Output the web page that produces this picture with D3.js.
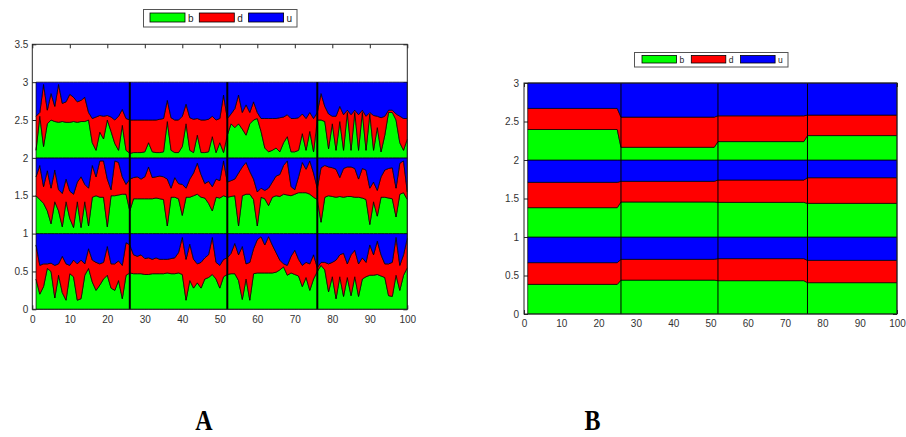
<!DOCTYPE html>
<html>
<head>
<meta charset="utf-8">
<script src="https://cdn.jsdelivr.net/npm/d3@7"></script>
<style>
  body { margin: 0; background: #fff; }
  svg { display: block; font-family: "Liberation Sans", Arial, sans-serif; }
</style>
</head>
<body>
<svg id="fig" width="906" height="437"></svg>
<script>
// ---- data ----
const keys = ['b', 'd', 'u'];
const colors = ['#00ff00', '#ff0000', '#0000ff'];
const breaks = [26, 52, 76];
const xTicks = [0, 10, 20, 30, 40, 50, 60, 70, 80, 90, 100];
const yTicksA = [0, 0.5, 1, 1.5, 2, 2.5, 3, 3.5];
const yTicksB = [0, 0.5, 1, 1.5, 2, 2.5, 3];

// panel A: samples x = 1..100, b = green share, bd = b + d (top of red), per band
const aX = d3.range(1, 101);
const aB0 = [0.4,0.2,0.3,0.54,0.5,0.15,0.45,0.22,0.12,0.47,0.43,0.12,0.14,0.45,0.54,0.36,0.25,0.32,0.4,0.45,0.28,0.25,0.38,0.14,0.45,
  0.48,0.47,0.47,0.47,0.46,0.46,0.47,0.47,0.47,0.47,0.48,0.47,0.47,0.48,0.46,0.12,0.38,0.28,0.35,0.28,0.4,0.42,0.46,0.4,0.28,0.43,
  0.46,0.47,0.47,0.38,0.13,0.4,0.12,0.47,0.48,0.48,0.48,0.48,0.48,0.49,0.52,0.56,0.45,0.48,0.46,0.44,0.3,0.42,0.25,0.4,
  0.5,0.58,0.52,0.23,0.43,0.14,0.43,0.17,0.42,0.18,0.43,0.17,0.4,0.43,0.45,0.45,0.46,0.44,0.42,0.18,0.17,0.45,0.25,0.45,0.55];
const aBD0 = [0.85,0.58,0.6,0.6,0.61,0.58,0.6,0.7,0.6,0.58,0.65,0.6,0.65,0.6,0.8,0.65,0.62,0.6,0.62,0.83,0.6,0.6,0.64,0.58,0.88,
  0.85,0.72,0.7,0.72,0.67,0.68,0.66,0.68,0.66,0.66,0.66,0.67,0.68,0.75,0.95,0.66,0.86,0.66,0.6,0.62,0.68,0.72,0.95,0.62,0.58,0.66,
  0.68,0.74,0.87,0.72,0.83,0.6,0.62,0.8,0.92,0.96,0.85,0.96,0.85,0.75,0.65,0.6,0.58,0.7,0.78,0.66,0.58,0.62,0.6,0.72,
  0.55,0.62,0.62,0.6,0.62,0.65,0.72,0.74,0.6,0.72,0.78,0.6,0.68,0.62,0.85,0.72,0.9,0.72,0.6,0.6,0.62,0.95,0.58,0.72,0.94];
const aB1 = [0.5,0.45,0.4,0.3,0.13,0.42,0.3,0.09,0.42,0.2,0.08,0.42,0.08,0.42,0.1,0.48,0.5,0.48,0.48,0.09,0.5,0.5,0.51,0.52,0.52,
  0.3,0.46,0.46,0.46,0.46,0.46,0.46,0.47,0.46,0.45,0.1,0.48,0.48,0.46,0.24,0.48,0.48,0.5,0.52,0.48,0.47,0.4,0.3,0.48,0.47,0.5,
  0.48,0.49,0.5,0.1,0.5,0.52,0.52,0.45,0.1,0.48,0.46,0.37,0.48,0.5,0.49,0.52,0.51,0.5,0.52,0.54,0.54,0.54,0.52,0.48,
  0.45,0.15,0.48,0.5,0.49,0.48,0.49,0.48,0.49,0.49,0.48,0.48,0.47,0.45,0.12,0.42,0.23,0.48,0.48,0.47,0.46,0.22,0.52,0.54,0.45];
const aBD1 = [0.75,0.9,0.62,0.83,0.6,0.84,0.58,0.53,0.72,0.56,0.52,0.68,0.75,0.65,0.6,0.9,0.75,0.96,0.96,0.72,0.58,0.96,0.94,0.75,0.65,
  0.72,0.74,0.75,0.72,0.75,0.88,0.74,0.75,0.76,0.75,0.72,0.6,0.74,0.66,0.65,0.6,0.72,0.8,0.93,0.78,0.66,0.69,0.62,0.72,0.7,0.96,
  0.68,0.7,0.72,0.8,0.88,0.94,0.82,0.72,0.55,0.6,0.57,0.6,0.68,0.76,0.78,0.9,0.96,0.62,0.58,0.75,0.94,0.85,0.96,0.8,
  0.6,0.87,0.9,0.88,0.87,0.85,0.74,0.86,0.88,0.88,0.86,0.72,0.86,0.84,0.6,0.68,0.57,0.75,0.84,0.86,0.87,0.6,0.93,0.96,0.55];
const aB2 = [0.1,0.55,0.15,0.45,0.5,0.48,0.47,0.48,0.47,0.47,0.48,0.47,0.48,0.48,0.5,0.2,0.1,0.34,0.25,0.5,0.35,0.19,0.1,0.43,0.1,
  0.06,0.07,0.07,0.07,0.08,0.2,0.08,0.07,0.07,0.08,0.48,0.1,0.07,0.07,0.15,0.45,0.1,0.07,0.3,0.07,0.07,0.08,0.28,0.07,0.2,0.07,
  0.3,0.45,0.4,0.45,0.38,0.3,0.45,0.5,0.52,0.35,0.13,0.08,0.1,0.13,0.08,0.2,0.28,0.08,0.08,0.1,0.32,0.1,0.35,0.08,
  0.5,0.5,0.48,0.12,0.45,0.1,0.48,0.1,0.6,0.1,0.6,0.1,0.6,0.1,0.58,0.1,0.4,0.08,0.3,0.6,0.6,0.5,0.2,0.1,0.25];
const aBD2 = [0.55,0.6,0.97,0.63,0.85,0.68,0.97,0.72,0.74,0.84,0.8,0.74,0.76,0.8,0.6,0.52,0.54,0.56,0.55,0.56,0.54,0.5,0.55,0.64,0.52,
  0.5,0.5,0.5,0.5,0.5,0.5,0.5,0.5,0.51,0.52,0.76,0.53,0.5,0.5,0.55,0.71,0.53,0.51,0.52,0.5,0.5,0.51,0.55,0.5,0.52,0.83,
  0.52,0.58,0.65,0.83,0.6,0.7,0.6,0.74,0.6,0.52,0.52,0.52,0.52,0.52,0.53,0.54,0.57,0.52,0.52,0.53,0.58,0.52,0.6,0.52,
  0.6,0.85,0.68,0.58,0.55,0.55,0.68,0.57,0.63,0.57,0.63,0.57,0.63,0.55,0.6,0.56,0.55,0.53,0.55,0.63,0.63,0.58,0.55,0.52,0.52];

// panel B: piecewise-constant segments, read at their end points
const bX = [1, 25, 26, 51, 52, 75, 76, 100];
const bB0  = [0.385, 0.385, 0.44, 0.44, 0.433, 0.433, 0.407, 0.407];
const bBD0 = [0.667, 0.667, 0.71, 0.71, 0.719, 0.719, 0.697, 0.697];
const bB1  = [0.381, 0.381, 0.455, 0.455, 0.45, 0.45, 0.437, 0.437];
const bBD1 = [0.71, 0.71, 0.723, 0.723, 0.74, 0.74, 0.77, 0.77];
const bB2  = [0.396, 0.396, 0.165, 0.165, 0.239, 0.239, 0.317, 0.317];
const bBD2 = [0.67, 0.67, 0.557, 0.557, 0.574, 0.574, 0.583, 0.583];

// ---- helpers ----
const svg = d3.select('#fig');
const stack = d3.stack().keys(keys);

function rows(xs, b, bd) {
  return xs.map((x, i) => ({ x, b: b[i], d: bd[i] - b[i], u: 1 - bd[i] }));
}

function drawPanel(opt) {
  const x = d3.scaleLinear().domain([0, 100]).range([opt.left, opt.right]);
  const y = d3.scaleLinear().domain([0, opt.yMax]).range([opt.bottom, opt.top]);
  const g = svg.append('g');

  // axes first so the ticks sit under the areas
  const ax = g.append('g').attr('class', 'axes');
  ax.append('g').attr('transform', `translate(0,${opt.bottom})`)
    .call(d3.axisBottom(x).tickValues(xTicks).tickSizeInner(-4).tickSizeOuter(0).tickPadding(opt.xPad));
  ax.append('g').attr('transform', `translate(0,${opt.top})`)
    .call(d3.axisTop(x).tickValues(xTicks).tickSizeInner(-4).tickSizeOuter(0).tickFormat(''));
  ax.append('g').attr('transform', `translate(${opt.left},0)`)
    .call(d3.axisLeft(y).tickValues(opt.yTicks).tickSizeInner(-4).tickSizeOuter(0).tickPadding(opt.yPad).tickFormat(d => String(d)));
  ax.append('g').attr('transform', `translate(${opt.right},0)`)
    .call(d3.axisRight(y).tickValues(opt.yTicks).tickSizeInner(-4).tickSizeOuter(0).tickFormat(''));
  ax.selectAll('.domain').remove();
  ax.selectAll('.tick line').attr('stroke', '#262626');
  ax.selectAll('.tick text').attr('fill', '#333').attr('font-size', 10)
    .attr('font-family', '"Liberation Sans", Arial, sans-serif');

  // stacked areas, one stack per band
  opt.bands.forEach((band, k) => {
    const series = stack(rows(opt.xs, band.b, band.bd));
    const area = d3.area()
      .x(d => x(d.data.x))
      .y0(d => y(k + d[0]))
      .y1(d => y(k + d[1]));
    g.append('g').selectAll('path')
      .data(series)
      .join('path')
      .attr('d', area)
      .attr('fill', (s, i) => colors[i])
      .attr('stroke', '#000')
      .attr('stroke-width', opt.edge)
      .attr('stroke-linejoin', 'round');
  });

  // segment dividers
  g.append('g').selectAll('line')
    .data(breaks)
    .join('line')
    .attr('x1', d => x(d)).attr('x2', d => x(d))
    .attr('y1', y(0)).attr('y2', y(3))
    .attr('stroke', '#000')
    .attr('stroke-width', opt.divider);

  // box
  g.append('rect')
    .attr('x', opt.left).attr('y', opt.top)
    .attr('width', opt.right - opt.left).attr('height', opt.bottom - opt.top)
    .attr('fill', 'none').attr('stroke', '#262626').attr('stroke-width', 1);

  // legend
  const L = opt.legend;
  const lg = svg.append('g');
  lg.append('rect').attr('x', L.x).attr('y', L.y).attr('width', L.w).attr('height', L.h)
    .attr('fill', '#fff').attr('stroke', '#555').attr('stroke-width', 1);
  keys.forEach((k, i) => {
    const sx = L.x + L.pad + i * L.step;
    lg.append('rect').attr('x', sx).attr('y', L.y + L.sy).attr('width', L.sw).attr('height', L.sh)
      .attr('fill', colors[i]).attr('stroke', '#000').attr('stroke-width', 0.8);
    lg.append('text').attr('x', sx + L.sw + 3).attr('y', L.y + L.h / 2)
      .attr('dy', '0.35em').attr('font-size', L.fs).attr('fill', '#222').text(k);
  });
}

drawPanel({
  left: 32.3, right: 407.3, top: 44.3, bottom: 309.3, yMax: 3.5, yTicks: yTicksA,
  xPad: 7, yPad: 4, edge: 0.7, divider: 2,
  xs: aX,
  bands: [{ b: aB0, bd: aBD0 }, { b: aB1, bd: aBD1 }, { b: aB2, bd: aBD2 }],
  legend: { x: 143.5, y: 9.5, w: 153.5, h: 17.5, pad: 6.5, step: 49.3, sy: 3.5, sw: 35, sh: 9, fs: 10 }
});

drawPanel({
  left: 524, right: 897, top: 83, bottom: 314, yMax: 3, yTicks: yTicksB,
  xPad: 6, yPad: 5, edge: 0.7, divider: 1,
  xs: bX,
  bands: [{ b: bB0, bd: bBD0 }, { b: bB1, bd: bBD1 }, { b: bB2, bd: bBD2 }],
  legend: { x: 634.5, y: 52.5, w: 153.5, h: 14.5, pad: 7.5, step: 49.3, sy: 3, sw: 34.5, sh: 7.5, fs: 8.5 }
});

// panel letters
svg.selectAll('text.panel')
  .data([{ t: 'A', x: 204 }, { t: 'B', x: 592.5 }])
  .join('text')
  .attr('class', 'panel')
  .attr('transform', d => `translate(${d.x},430) scale(0.8,1)`)
  .attr('text-anchor', 'middle')
  .attr('font-family', '"Liberation Serif", "Times New Roman", serif')
  .attr('font-weight', 'bold')
  .attr('font-size', 30)
  .attr('fill', '#000')
  .text(d => d.t);
</script>
</body>
</html>
